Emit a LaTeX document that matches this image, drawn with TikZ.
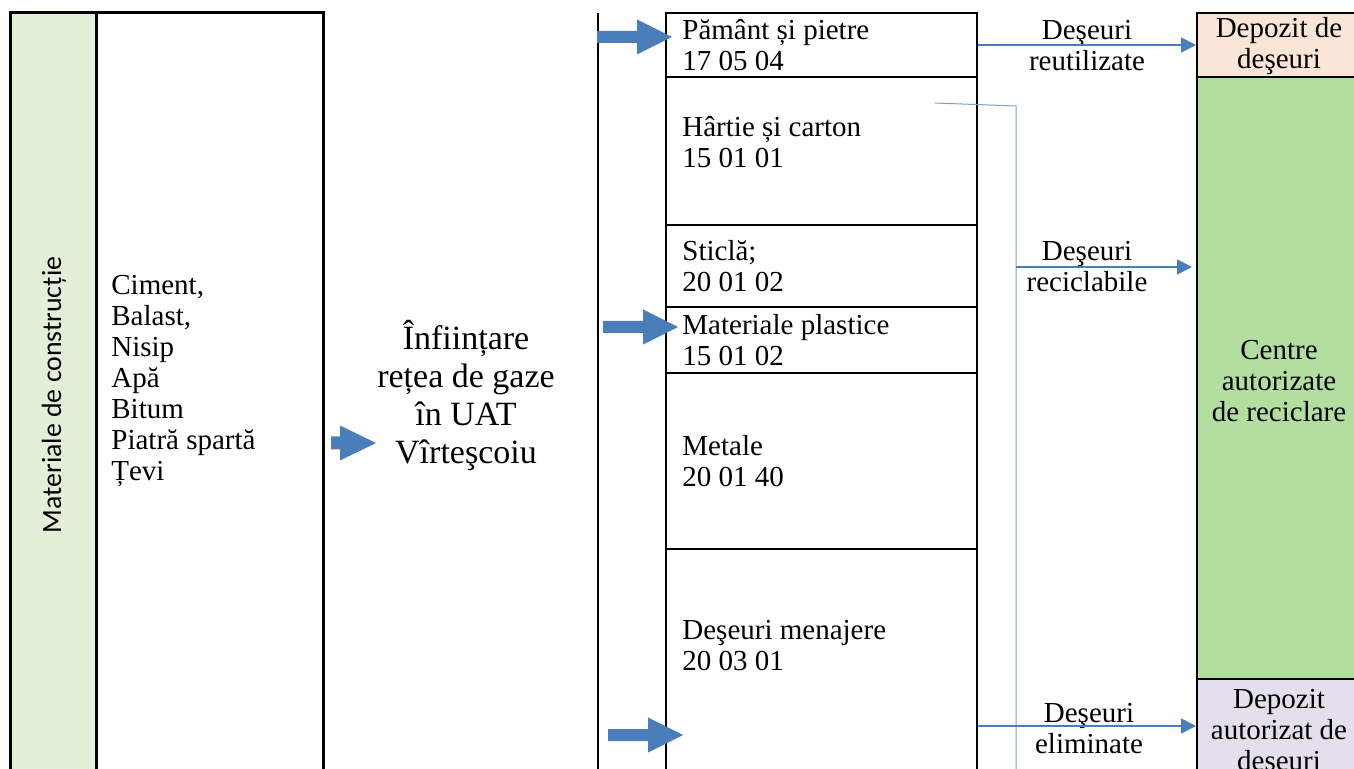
\documentclass[tikz,border=0pt]{standalone}
\usepackage{fontspec}
\setmainfont{Liberation Serif}
\newfontfamily\sidefont{Carlito}
\usepackage{xcolor}
\usepackage{tikz}
\usetikzlibrary{fit, arrows.meta}

\definecolor{leftgreen}{HTML}{E2F0D9}
\definecolor{peach}{HTML}{FBE5D6}
\definecolor{recgreen}{HTML}{B2DE9F}
\definecolor{lavender}{HTML}{E4DFEC}
\definecolor{arrowblue}{HTML}{4A7EBB}
\definecolor{feedblue}{HTML}{7A9FD3}

\tikzset{
	tablebox/.style={draw=black, line width=1.5pt, inner sep=0pt},
	cellbox/.style={draw=black, line width=1pt, inner sep=0pt},
	celltext/.style={anchor=west, align=left, inner sep=0pt, font=\fontsize{14.5}{15.5}\selectfont},
	labeltext/.style={align=center, inner sep=0pt, font=\fontsize{14.5}{15.5}\selectfont},
	thinarrow/.style={draw=arrowblue, line width=0.9pt, -{Triangle[length=7.5pt, width=7.5pt]}},
	feedline/.style={draw=feedblue, line width=0.5pt}
}

\begin{document}
\begin{tikzpicture}[x=0.5pt, y=-0.5pt]

	\useasboundingbox (0,0) rectangle (1354,769);

	% left table
	\node[tablebox, fill=leftgreen, fit={(10,13) (96,800)}] (matcol) {};
	\node[tablebox, fit={(96,13) (323,800)}] (listcol) {};
	\node[rotate=90, inner sep=0pt, font=\sidefont\fontsize{13.9}{15}\selectfont] (matlabel) at (54,395) {Materiale de construcție};
	\node[celltext] (materials) at (111,381) {Ciment,\\Balast,\\Nisip\\Apă\\Bitum\\Piatră spartă\\Țevi};

	\node[align=center, inner sep=0pt, font=\fontsize{17}{19}\selectfont] (project) at (466,396) {Înființare\\rețea de gaze\\în UAT\\Vîrteşcoiu};

	\draw[line width=1pt] (598,13)--(598,800);

	% waste boxes
	\node[cellbox, fit={(666,13) (977,77)}] (pamant) {};
	\node[cellbox, fit={(666,77) (977,225)}] (hartie) {};
	\node[cellbox, fit={(666,225) (977,307)}] (sticla) {};
	\node[cellbox, fit={(666,307) (977,373)}] (plastic) {};
	\node[cellbox, fit={(666,373) (977,549)}] (metale) {};
	\node[cellbox, fit={(666,549) (977,800)}] (menajere) {};

	\node[celltext] (pamanttext) at (682,45.5) {Pământ și pietre\\17 05 04};
	\node[celltext] (hartietext) at (682,142) {Hârtie și carton\\15 01 01};
	\node[celltext] (sticlatext) at (682,266) {Sticlă;\\20 01 02};
	\node[celltext] (plastictext) at (682,340) {Materiale plastice\\15 01 02};
	\node[celltext] (metaletext) at (682,461) {Metale\\20 01 40};
	\node[celltext] (menajeretext) at (682,646) {Deşeuri menajere\\20 03 01};

	% destinations
	\node[cellbox, fill=peach, fit={(1197,13) (1361,77)}] (depozit) {};
	\node[cellbox, fill=recgreen, fit={(1197,77) (1361,679)}] (centre) {};
	\node[cellbox, fill=lavender, fit={(1197,679) (1361,800)}] (depaut) {};

	\node[labeltext] (depozittext) at (1279,46) {Depozit de\\deşeuri};
	\node[labeltext] (centretext) at (1279,381) {Centre\\autorizate\\de reciclare};
	\node[labeltext] (depauttext) at (1279,730) {Depozit\\autorizat de\\deseuri};

	\node[labeltext] (reutlabel) at (1087,46) {Deşeuri\\reutilizate};
	\node[labeltext] (reclabel) at (1087,267) {Deşeuri\\reciclabile};
	\node[labeltext] (elimlabel) at (1089,729) {Deşeuri\\eliminate};

	% connectors
	\coordinate (feedstart) at (935,103);
	\coordinate (feedcorner) at (1016,106);
	\coordinate (feedend) at (1016,800);
	\coordinate (tap) at (1016,267);
	\coordinate (elimy) at (0,726);

	\draw[feedline] (feedstart)--(feedcorner)--(feedend);
	\draw[thinarrow] (pamant.east)--(depozit.west);
	\draw[thinarrow, shorten >=2pt] (tap)--(tap -| centre.west);
	\draw[thinarrow] (menajere.east |- elimy)--(depaut.west |- elimy);

	% block arrows
	\def \a {597}
	\def \b {37}
	\fill[arrowblue] (\a,\b-6)--(\a+40,\b-6)--(\a+40,\b-17.5)--(\a+75,\b)--(\a+40,\b+17.5)--(\a+40,\b+6)--(\a,\b+6)--cycle;
	\def \a {603}
	\def \b {327}
	\fill[arrowblue] (\a,\b-6)--(\a+40,\b-6)--(\a+40,\b-17.5)--(\a+75,\b)--(\a+40,\b+17.5)--(\a+40,\b+6)--(\a,\b+6)--cycle;
	\def \a {608}
	\def \b {735}
	\fill[arrowblue] (\a,\b-6)--(\a+40,\b-6)--(\a+40,\b-17.5)--(\a+75,\b)--(\a+40,\b+17.5)--(\a+40,\b+6)--(\a,\b+6)--cycle;
	\def \a {331}
	\def \b {443}
	\fill[arrowblue] (\a,\b-6.5)--(\a+9,\b-6.5)--(\a+9,\b-17.5)--(\a+45,\b)--(\a+9,\b+17.5)--(\a+9,\b+6.5)--(\a,\b+6.5)--cycle;

\end{tikzpicture}
\end{document}
